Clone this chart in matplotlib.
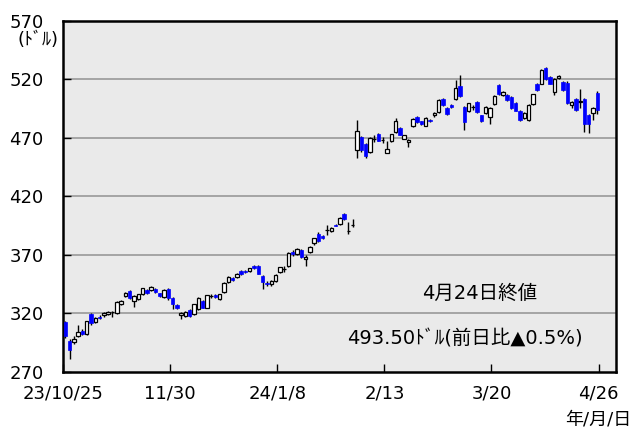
import matplotlib
matplotlib.use("Agg")
import matplotlib.pyplot as plt
import numpy as np

plt.rcParams['font.family'] = ['DejaVu Sans', 'Noto Sans CJK JP']

# daily OHLC, 23/10/25 .. 24/4/24 (trading days)
opens = [312.0, 296.5, 295.0, 300.2, 304.9, 302.1, 319.0, 312.5, 317.0, 318.2,
         319.0, 320.5, 320.4, 327.5, 334.5, 338.7, 330.2, 331.7, 335.9, 339.3,
         340.1, 340.7, 336.8, 334.0, 340.7, 332.5, 326.6, 318.4, 317.6, 322.7,
         319.0, 323.2, 330.3, 324.7, 334.5, 335.0, 332.3, 337.9, 346.3, 350.0,
         350.9, 356.2, 356.0, 355.9, 359.8, 359.8, 352.0, 345.8, 345.0, 347.2,
         355.1, 357.6, 360.4, 372.5, 370.3, 373.9, 366.3, 371.9, 379.6, 388.0,
         385.8, 391.2, 390.3, 395.5, 395.9, 404.4, 390.4, 395.0, 459.0, 470.3,
         464.6, 457.9, 469.0, 473.1, 467.7, 457.0, 466.9, 474.8, 478.2, 469.2,
         466.3, 479.6, 487.9, 483.8, 480.2, 485.2, 488.9, 491.7, 502.9, 495.0,
         497.9, 503.0, 514.2, 496.5, 492.8, 496.5, 500.1, 488.9, 490.8, 488.0,
         498.8, 514.8, 506.4, 506.4, 504.9, 499.3, 492.8, 486.6, 485.2, 498.8,
         516.2, 516.2, 529.4, 521.8, 509.2, 521.0, 517.6, 517.0, 497.9, 503.0,
         500.5, 503.0, 489.5, 490.8, 508.0]
highs = [313.5, 297.5, 300.0, 309.7, 306.0, 313.5, 320.4, 316.5, 318.0, 320.5,
         322.0, 322.0, 330.0, 331.0, 338.0, 340.0, 335.5, 336.5, 341.5, 340.5,
         343.0, 341.5, 337.5, 340.5, 341.5, 333.5, 327.5, 321.0, 322.0, 323.5,
         327.8, 333.8, 331.0, 335.5, 336.5, 336.0, 336.5, 346.5, 351.5, 351.0,
         354.5, 357.0, 357.0, 358.8, 361.0, 361.0, 352.5, 347.0, 348.5, 353.5,
         359.5, 360.0, 372.5, 373.5, 375.5, 374.5, 369.5, 377.5, 384.5, 389.0,
         387.0, 395.0, 393.8, 396.5, 402.0, 405.5, 397.9, 400.7, 485.2, 471.5,
         465.5, 470.5, 472.0, 474.0, 470.5, 467.5, 473.5, 486.6, 479.0, 472.5,
         468.8, 486.8, 488.5, 484.5, 487.5, 486.0, 491.5, 503.0, 504.0, 496.0,
         499.0, 519.0, 523.3, 497.0, 500.0, 498.0, 501.0, 489.5, 497.0, 496.5,
         506.5, 515.5, 510.0, 507.5, 505.5, 500.5, 493.5, 491.5, 498.5, 507.5,
         517.0, 528.5, 530.5, 522.5, 521.0, 523.5, 518.5, 518.0, 501.5, 504.0,
         511.4, 504.0, 490.5, 496.5, 510.0]
lows = [299.0, 281.0, 293.5, 299.5, 301.0, 301.5, 310.0, 311.5, 315.0, 317.0,
        318.0, 317.0, 319.5, 326.5, 333.5, 332.0, 325.0, 331.0, 335.0, 336.5,
        339.0, 337.5, 333.5, 333.0, 331.5, 323.2, 323.5, 314.8, 316.5, 316.5,
        318.0, 322.5, 324.0, 324.0, 332.5, 332.5, 331.5, 337.5, 345.5, 347.0,
        350.0, 352.5, 354.5, 355.0, 357.5, 353.0, 340.7, 343.5, 343.5, 346.5,
        354.0, 355.0, 359.5, 369.0, 369.5, 367.0, 359.8, 371.0, 378.5, 381.0,
        383.5, 387.0, 389.5, 394.0, 395.0, 399.5, 388.0, 393.6, 452.8, 458.0,
        452.8, 457.0, 466.0, 467.0, 465.0, 456.5, 466.0, 474.0, 472.0, 468.5,
        461.8, 479.0, 482.5, 481.0, 479.5, 483.0, 488.0, 491.0, 497.0, 489.5,
        495.0, 502.0, 504.5, 476.8, 491.5, 494.0, 491.0, 483.0, 490.0, 481.5,
        498.0, 506.0, 505.5, 501.5, 494.5, 492.5, 484.5, 485.5, 484.5, 498.0,
        510.0, 515.5, 519.5, 515.5, 506.4, 520.0, 510.0, 498.5, 495.0, 493.0,
        495.0, 474.8, 474.0, 485.2, 490.5]
closes = [300.2, 288.8, 297.9, 304.1, 302.1, 312.8, 311.4, 315.4, 315.6, 319.8,
          321.3, 320.5, 329.4, 330.3, 337.3, 333.1, 334.5, 335.9, 341.0, 337.3,
          342.4, 338.2, 334.5, 339.6, 332.5, 327.5, 324.7, 320.4, 320.5, 317.6,
          327.5, 333.1, 324.7, 335.0, 334.5, 333.5, 335.9, 345.8, 350.9, 348.0,
          353.7, 353.7, 355.2, 358.1, 358.5, 353.7, 346.3, 344.6, 347.7, 352.8,
          359.0, 357.6, 371.7, 370.3, 374.5, 367.8, 368.3, 376.7, 383.8, 381.8,
          384.3, 391.2, 393.1, 394.8, 401.5, 400.1, 390.4, 395.0, 475.3, 459.0,
          454.2, 469.7, 469.0, 467.5, 467.7, 459.9, 473.1, 483.8, 472.6, 472.0,
          468.3, 486.1, 483.2, 481.9, 486.6, 483.8, 490.8, 502.1, 497.9, 490.3,
          495.9, 512.0, 505.8, 483.2, 499.3, 496.5, 491.7, 483.8, 496.5, 495.6,
          505.8, 506.9, 509.2, 502.1, 495.0, 493.1, 485.2, 490.8, 497.9, 506.9,
          510.6, 527.5, 520.4, 516.2, 520.4, 522.7, 510.6, 499.3, 500.7, 493.7,
          501.3, 481.5, 481.5, 495.6, 493.5]

tick_labels = ["23/10/25", "11/30", "24/1/8", "2/13", "3/20", "4/26"]
y_ticks = [270, 320, 370, 420, 470, 520, 570]

o = np.array(opens)
h = np.array(highs)
l = np.array(lows)
c = np.array(closes)
x = np.arange(len(c))

fig = plt.figure(figsize=(6.35, 4.30), dpi=100)
ax = fig.add_axes([0.0992, 0.136, 0.8704, 0.816])
ax.set_facecolor("#eaeaea")

for gy in y_ticks[1:-1]:
    ax.axhline(gy, color="#999999", lw=1.2, zorder=1)

up = c >= o
ax.vlines(x, l, h, color="black", lw=1.0, zorder=2)
ax.bar(x[up], c[up] - o[up], bottom=o[up], width=0.8, color="white",
       edgecolor="black", linewidth=0.9, zorder=3)
ax.bar(x[~up], o[~up] - c[~up], bottom=c[~up], width=0.8, color="#0000ff",
       edgecolor="#0000ff", linewidth=0.5, zorder=3)

ax.set_xlim(-0.54, 128.3)
ax.set_ylim(270, 570)
ax.set_yticks(y_ticks)
ax.set_yticklabels([str(v) for v in y_ticks])
ax.set_xticks(np.arange(6) * 24.96 - 0.5)
ax.set_xticklabels(tick_labels)
ax.tick_params(axis="both", direction="in", length=6, width=1.0,
               labelsize=13, colors="black")
ax.tick_params(axis="y", pad=14)
ax.tick_params(axis="x", pad=9)
for s in ax.spines.values():
    s.set_linewidth(1.8)
    s.set_color("black")

fig.text(38 / 635, 1 - 40 / 430, "(ﾄﾞﾙ)", ha="center", va="center", fontsize=13)
fig.text(598 / 635, 1 - 420 / 430, "年/月/日", ha="center", va="center", fontsize=13)
fig.text(480 / 635, 1 - 293 / 430, "4月24日終値", ha="center", va="center", fontsize=14)
fig.text(464.5 / 635, 1 - 339 / 430, "493.50ﾄﾞﾙ(前日比▲0.5%)", ha="center",
         va="center", fontsize=14)

fig.savefig("out.png", dpi=100)
